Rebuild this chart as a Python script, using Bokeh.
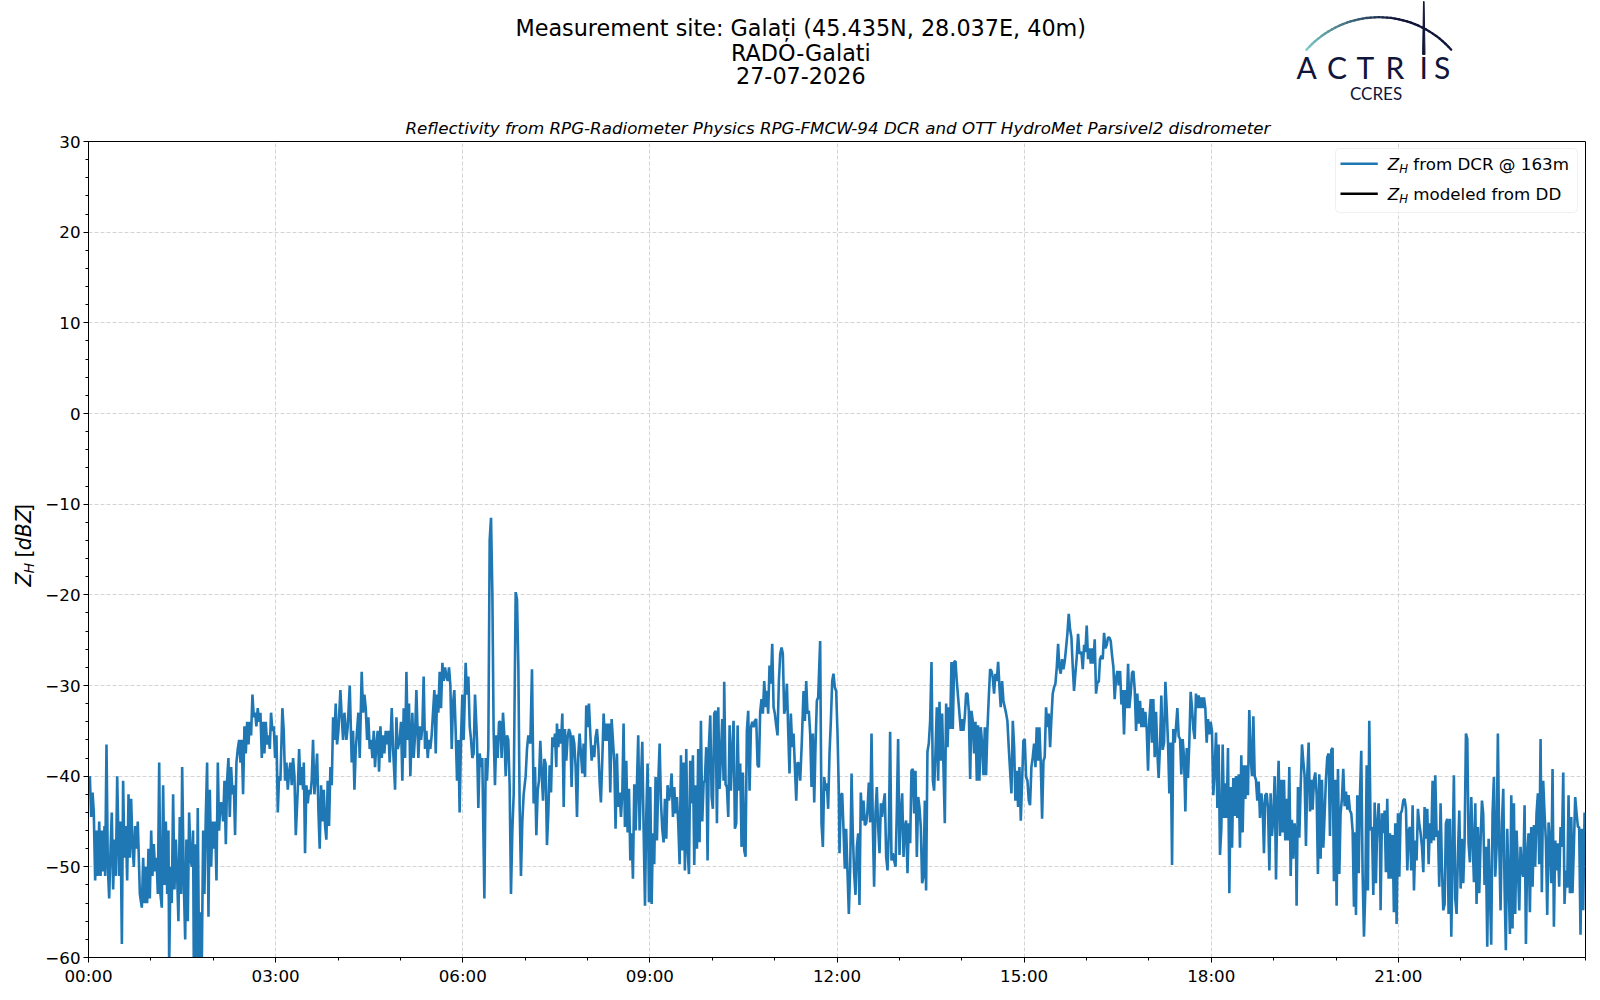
import numpy as np
import pandas as pd
from bokeh.plotting import figure
from bokeh.layouts import column, row
from bokeh.models import ColumnDataSource, Range1d, FixedTicker, Label, BoxAnnotation, Arrow, Title
from bokeh.core.properties import value
from bokeh.embed import file_html
from bokeh.resources import INLINE

# ---------------- chart content ----------------
day = "2026-07-27"
site_title = "Measurement site: Galați (45.435N, 28.037E, 40m)"
station_name = "RADO-Galati"
date_text = "27-07-2026"
subtitle = "Reflectivity from RPG-Radiometer Physics RPG-FMCW-94 DCR and OTT HydroMet Parsivel2 disdrometer"
legend_texts = ["from DCR @ 163m", "modeled from DD"]
legend_colors = ["#1f77b4", "black"]

x_tick_hours = [0, 3, 6, 9, 12, 15, 18, 21]
x_tick_labels = ["00:00", "03:00", "06:00", "09:00", "12:00", "15:00", "18:00", "21:00"]
y_ticks = [-60, -50, -40, -30, -20, -10, 0, 10, 20, 30]
y_tick_labels = ["\u221260", "\u221250", "\u221240", "\u221230", "\u221220", "\u221210", "0", "10", "20", "30"]

# Z_H from the cloud radar, minutes after midnight and dBZ
min_a = [
    1.3, 2.6, 3.9, 5.1, 6.4, 7.7, 9.0, 10.3, 11.6, 12.8,
    14.1, 15.4, 16.0, 17.3, 18.6, 19.9, 21.2, 22.4, 23.7, 25.0,
    26.3, 27.6, 29.5, 30.8, 32.1, 33.3, 34.6, 35.9, 37.2, 38.5,
    39.8, 41.0, 42.3, 43.6, 44.9, 46.2, 47.4, 49.4, 51.3, 52.6,
    53.9, 55.1, 56.4, 57.7, 59.0, 60.3, 61.5, 62.8, 64.1, 65.4,
    66.7, 68.0, 69.2, 70.5, 71.8, 73.1, 74.4, 75.7, 76.9, 77.6,
    78.9, 80.1, 81.4, 82.7, 84.0, 85.3, 86.5, 87.8, 89.1, 90.1,
    91.7, 93.0, 94.2, 95.5, 96.8, 98.1, 99.4, 100.6, 101.3, 102.6,
    103.9, 105.1, 106.4, 107.7, 109.0, 110.3, 111.5, 112.8, 114.1, 115.4,
    116.7, 118.0, 119.2, 120.5, 121.8, 123.1, 124.4, 125.6, 126.9, 128.2,
    129.5, 130.8, 132.1, 133.3, 134.6, 135.9, 137.2, 138.5, 139.8, 141.0,
    142.3, 143.6, 144.9, 146.2, 147.4, 148.7, 150.0, 151.3, 152.6, 153.9,
    155.1, 156.4, 157.7, 159.0, 160.3, 161.5, 162.8, 164.1]
zh_a = [
    -40, -44.5, -41.8, -44, -51.5, -46, -51, -45, -51, -46,
    -50.5, -45.5, -51, -36.5, -50, -53.5, -48, -44, -52.5, -47,
    -51, -40, -51, -45, -58.5, -40.5, -49, -45.5, -51.5, -42,
    -49, -42.5, -47.5, -50, -45.5, -48, -45, -53, -54.5, -49,
    -54, -50, -54, -48, -53.5, -46, -51, -47.5, -50.5, -49,
    -53, -38.5, -53, -54.5, -41, -52, -45, -53, -46, -61,
    -50, -54, -42, -52.5, -47, -51, -56, -44.5, -53, -39,
    -52, -58, -47, -56, -44, -49, -50, -46, -61, -47.5,
    -60.5, -43.5, -61, -55, -60.5, -46, -53, -44.5, -38.5, -55.5,
    -41.5, -50, -45, -48, -45, -51.5, -38.5, -46, -43, -43,
    -45, -40.5, -47.5, -40.5, -38, -44.5, -39, -42, -41, -46.5,
    -38.5, -37, -36, -38.5, -36, -42, -34.5, -37.5, -34, -36.5,
    -34, -35.5, -31, -33.5, -33, -34.5, -32.5, -34]

min_b = [
    165.4, 166.7, 168.0, 169.2, 170.5, 171.8, 173.1, 174.4, 175.6, 176.9,
    178.2, 179.5, 180.8, 182.1, 183.3, 184.6, 186.5, 187.8, 189.1, 190.4,
    191.7, 193.0, 194.2, 195.5, 196.8, 198.1, 199.4, 201.3, 202.6, 203.9,
    205.1, 206.4, 207.1, 208.3, 209.6, 210.9, 212.2, 213.5, 214.7, 216.0,
    217.3, 218.6, 219.9, 221.2, 222.4, 223.7, 225.0, 226.3, 227.6, 228.8,
    230.1, 231.4, 232.7, 234.0, 235.3, 236.5, 237.8, 239.1, 240.4, 242.3,
    243.6, 244.9, 246.2, 248.1, 249.4, 251.3, 253.2, 254.5, 255.8, 257.1,
    258.3, 259.6, 260.9, 262.8, 264.1, 265.4, 266.7, 268.0, 269.2, 270.5,
    271.8, 273.1, 274.4, 275.6, 276.9, 278.2, 279.5, 280.8, 282.1, 283.3,
    284.6, 285.9, 287.2, 288.5, 289.7, 291.7, 293.0, 294.9, 296.2, 297.4,
    299.4, 300.6, 301.9, 303.2, 304.5, 305.8, 307.1, 308.3, 309.6, 311.5,
    312.8, 314.1, 315.4, 317.3, 318.6, 319.9, 321.2, 322.4, 323.7, 325.0,
    326.3, 327.6, 328.8, 330.1, 331.4, 332.7, 334.0, 335.3, 336.5, 337.8,
    339.1, 340.4, 341.7, 343.0, 344.2, 345.5, 346.8, 348.1, 349.4, 350.6,
    351.9, 353.2, 354.5, 355.8, 357.0, 358.3, 359.6, 360.9, 362.8, 364.1,
    365.4, 366.7, 368.0, 369.2, 370.5, 371.8, 373.7, 375.0, 376.3, 377.6,
    378.8, 380.8, 382.1, 383.3, 384.6, 385.9, 387.2, 388.5, 389.7, 391.0,
    392.3, 393.6, 394.9, 396.2, 397.4, 398.7, 400.0, 401.3, 402.6, 403.8,
    405.1, 406.4, 407.7, 409.0, 410.9, 412.2, 413.5, 414.7, 416.0, 417.3,
    418.6, 420.5, 421.8, 423.1]
zh_b = [
    -33, -38, -34, -37.5, -34, -36.5, -35.5, -37, -33, -35,
    -34.5, -38, -35.5, -44, -40, -40.5, -32.5, -35, -40.5, -38.5,
    -41.5, -39.5, -38.5, -41, -38, -40, -46.5, -41.5, -37, -41,
    -39, -41.5, -38.5, -48.5, -41, -43, -41.5, -42, -40.5, -36,
    -42, -40, -37.5, -44, -48, -41, -45, -41.5, -45.5, -47,
    -40.5, -45.5, -39, -41, -33.5, -36, -32, -36.5, -35, -30.5,
    -33.5, -36, -33, -36, -34.5, -30, -38.5, -35, -41.5, -37,
    -35, -33, -38, -28.5, -33, -31, -32.5, -36, -33.5, -37,
    -36, -38, -35, -39, -36.5, -35, -39.5, -34.5, -38, -35.5,
    -37.5, -35, -36.5, -35, -38.5, -32.5, -37, -41.5, -33.5, -37,
    -36, -34, -40.5, -32.5, -38, -28.5, -36, -32, -40, -33,
    -38, -35.5, -30.5, -38, -34.5, -36, -34.5, -29, -37, -35,
    -38, -36, -37, -35.5, -33, -30.5, -37.5, -31, -33, -28.5,
    -32.5, -27.5, -29.5, -28, -29, -29.5, -28, -30, -37, -32,
    -30.5, -35, -40.5, -36, -44, -36, -31, -36, -27.5, -31,
    -29, -34.5, -36, -38, -37.5, -31, -36, -43.5, -37.5, -39,
    -38, -53.5, -38, -40.5, -37, -14, -11.5, -20, -35, -41,
    -35.5, -38, -34, -34, -38, -33, -35.5, -40, -35.5, -36,
    -41, -53, -46, -42, -19.7, -20.5, -28, -43, -51, -45,
    -42, -40, -37, -35.5]

min_c = [
    425.0, 426.6, 428.2, 429.5, 430.8, 432.1, 433.3, 434.6, 435.9, 437.2,
    438.5, 439.7, 441.0, 442.3, 443.6, 444.9, 446.2, 447.4, 448.7, 450.0,
    450.6, 451.9, 453.2, 454.5, 455.8, 457.1, 458.3, 459.6, 460.9, 462.2,
    463.5, 464.7, 466.0, 467.3, 468.6, 469.9, 471.2, 472.4, 473.7, 475.0,
    476.3, 477.6, 478.8, 480.1, 481.4, 482.7, 484.0, 485.3, 486.5, 487.8,
    489.1, 490.4, 491.7, 492.9, 494.2, 495.5, 496.8, 498.1, 499.4, 500.6,
    501.9, 503.2, 504.5, 505.8, 507.0, 508.3, 509.6, 510.9, 512.2, 513.5,
    514.7, 516.0, 517.3, 518.6, 519.9, 521.2, 522.4, 523.7, 525.0, 526.3,
    527.6, 528.8, 530.1, 531.4, 532.7, 534.0, 535.3, 536.5, 537.8, 539.1,
    540.4, 541.7, 542.9, 544.2, 545.5, 546.8, 548.1, 549.4, 550.6, 551.9,
    553.2, 554.5, 555.8, 557.0, 558.3, 559.6, 560.9, 562.2, 563.5, 564.7,
    566.0, 567.3, 568.6, 569.9, 571.1, 572.4, 573.7, 575.0, 576.3, 577.6,
    578.8, 580.1, 581.4, 582.7, 584.0, 585.3, 586.5, 587.8, 589.1, 590.4,
    591.7, 592.9, 594.2, 595.5, 596.8, 598.1, 599.4, 600.6, 601.9, 603.2,
    604.5, 605.8, 607.0, 608.3, 609.6, 610.9, 611.5, 612.8, 614.1, 615.4,
    616.7, 617.9, 619.2, 620.5, 621.8, 623.1, 624.4, 625.6, 626.9, 628.2,
    629.5, 630.8, 632.0, 633.3, 634.6, 635.9, 637.2, 638.5, 639.7, 641.0,
    642.3, 643.6, 644.9, 646.1, 647.4, 648.7, 650.0, 651.3, 652.6, 653.8,
    655.1, 656.4, 657.7, 659.0, 660.2, 661.5, 662.8, 664.1, 665.4, 666.7,
    667.9, 669.2, 670.5, 671.8, 673.1, 674.3, 675.6, 676.9, 678.2, 679.5,
    680.8, 682.0, 683.3]
zh_c = [
    -36.4, -28.2, -43.0, -39.0, -46.5, -41.6, -40.5, -36.1, -39.6, -42.7,
    -38.1, -38.6, -47.6, -44.1, -38.8, -41.8, -35.7, -36.8, -35.3, -39.0,
    -34.2, -36.8, -34.8, -36.4, -33.1, -43.4, -34.8, -38.3, -35.7, -34.8,
    -35.3, -41.2, -35.5, -36.4, -39.0, -44.5, -37.5, -35.3, -37.5, -39.7,
    -36.4, -40.1, -32.2, -34.6, -32.0, -35.3, -38.3, -36.6, -37.9, -35.7,
    -34.8, -36.8, -40.7, -42.9, -38.3, -33.1, -36.1, -34.2, -36.1, -34.2,
    -41.8, -33.7, -36.1, -38.6, -45.8, -37.5, -43.4, -41.8, -44.5, -41.8,
    -34.2, -45.6, -38.3, -46.2, -41.4, -49.3, -46.3, -51.3, -40.9, -46.0,
    -40.7, -35.5, -46.0, -40.5, -36.2, -46.0, -54.3, -44.5, -38.6, -53.9,
    -41.2, -54.1, -46.3, -49.7, -40.1, -47.1, -40.5, -36.4, -42.7, -45.8,
    -47.3, -42.5, -46.9, -41.0, -42.7, -41.8, -39.7, -44.5, -41.2, -44.1,
    -42.3, -45.2, -49.7, -37.7, -48.2, -38.5, -50.4, -37.0, -48.2, -50.8,
    -38.3, -43.0, -37.7, -49.8, -41.0, -48.0, -37.0, -47.3, -33.9, -45.0,
    -40.7, -40.5, -36.8, -49.3, -36.6, -33.3, -42.3, -43.6, -33.1, -32.8,
    -45.2, -32.4, -41.4, -37.9, -33.7, -40.5, -29.6, -40.9, -41.2, -44.5,
    -34.4, -41.6, -37.3, -33.9, -45.8, -45.2, -34.4, -41.6, -38.6, -47.8,
    -39.6, -48.2, -48.9, -35.0, -32.8, -41.6, -34.6, -34.0, -34.6, -33.9,
    -33.7, -38.8, -39.0, -32.9, -31.5, -33.1, -29.5, -32.4, -30.6, -33.1,
    -27.8, -29.8, -25.4, -32.4, -33.1, -34.4, -35.5, -29.5, -26.5, -25.8,
    -26.5, -33.1, -32.4, -29.8, -35.1, -39.7, -33.1, -36.8, -35.3, -39.0,
    -42.7, -38.5, -38.6]

min_d = [
    684.6, 686.2, 687.8, 689.1, 690.4, 691.6, 692.9, 694.2, 695.5, 696.8,
    698.1, 699.3, 700.6, 701.9, 703.8, 705.1, 706.4, 707.7, 709.0, 710.2,
    711.5, 712.8, 714.1, 715.4, 716.6, 717.9, 719.2, 720.5, 721.8, 722.4,
    723.7, 725.0, 726.3, 727.5, 728.8, 730.1, 731.4, 732.7, 734.0, 735.2,
    736.5, 737.8, 739.1, 740.4, 741.6, 742.9, 744.2, 745.5, 746.8, 748.1,
    749.3, 750.6, 751.9, 753.2, 754.5, 755.7, 757.0, 758.3, 759.6, 760.9,
    762.2, 763.4, 764.7, 766.0, 767.3, 768.6, 769.9, 771.1, 772.4, 773.7,
    775.0, 776.3, 777.5, 778.8, 780.1, 781.4, 782.7, 784.0, 785.2, 786.5,
    787.8, 789.1, 790.4, 791.6, 792.9, 794.2, 795.5, 796.8, 798.1, 799.3,
    800.6, 801.9, 803.2, 804.5, 805.7, 807.0, 808.3, 809.6, 810.9, 812.2,
    813.4, 814.7, 816.0, 817.3, 818.6, 819.9, 821.1, 822.4, 823.7, 825.0,
    826.3, 827.5, 828.8, 830.1, 831.4, 832.7, 834.0, 835.2, 836.5, 837.8,
    839.1, 840.4, 841.6, 842.9, 844.2, 845.5, 846.8, 848.1, 849.3, 850.6,
    851.9, 853.2, 854.5, 855.7, 857.0, 858.3, 859.6, 860.9, 862.2, 863.4,
    864.7, 866.0, 867.3, 868.6, 869.8, 871.1, 872.4, 873.7, 875.0, 876.3,
    877.5, 878.8, 880.1, 881.4, 882.7, 883.9, 885.2, 886.5, 887.8, 889.1,
    890.4, 891.6, 892.9, 894.2, 895.5, 896.8, 898.0, 899.3, 900.6, 901.9,
    903.2, 904.5, 905.7, 907.0, 908.3, 909.6, 910.9, 912.1, 913.4, 914.7,
    916.0, 917.3, 918.6, 919.8, 921.1, 922.4, 923.7, 925.0, 926.3, 927.5,
    928.8, 930.1, 931.4, 932.7, 933.9, 935.2, 936.5, 937.8, 939.1, 940.4,
    941.6, 942.9, 944.2, 945.5, 946.8, 948.0, 949.3, 950.6, 951.9, 953.2]
zh_d = [
    -40.5, -36.1, -30.6, -33.9, -29.5, -33.1, -32.8, -35.3, -41.2, -35.3,
    -42.9, -36.8, -31.7, -31.3, -25.1, -45.2, -47.8, -40.1, -41.6, -40.8,
    -43.6, -37.5, -33.9, -29.5, -28.7, -30.2, -30.6, -35.3, -41.9, -48.5,
    -42.1, -41.9, -46.0, -50.2, -45.8, -50.6, -55.2, -50.0, -39.7, -46.3,
    -50.7, -53.1, -47.8, -46.3, -54.2, -41.8, -44.9, -42.7, -45.4, -45.2,
    -43.8, -40.7, -45.1, -35.3, -45.6, -52.2, -44.1, -41.2, -45.6, -48.5,
    -43.0, -44.5, -43.0, -41.9, -48.9, -50.4, -46.0, -35.1, -49.3, -48.5,
    -49.3, -50.0, -44.1, -35.9, -48.7, -44.1, -41.9, -48.9, -45.6, -44.9,
    -50.7, -45.2, -47.4, -39.4, -39.2, -44.1, -39.4, -48.9, -42.3, -43.4,
    -45.6, -51.8, -51.1, -42.7, -52.6, -37.3, -36.4, -33.9, -27.4, -40.5,
    -41.6, -37.5, -32.4, -40.5, -31.8, -38.3, -33.1, -39.0, -45.2, -32.0,
    -36.8, -32.4, -34.8, -27.4, -34.8, -27.4, -27.3, -29.5, -31.3, -33.1,
    -35.0, -33.7, -35.0, -33.5, -30.9, -30.9, -32.8, -40.3, -32.8, -33.9,
    -37.5, -34.0, -40.5, -34.4, -40.5, -34.6, -36.4, -39.9, -34.6, -39.9,
    -34.8, -31.3, -28.2, -28.4, -29.1, -30.9, -28.7, -29.5, -27.4, -30.2,
    -32.4, -29.5, -31.7, -32.4, -33.1, -33.9, -36.8, -39.4, -41.9, -33.9,
    -36.8, -42.7, -39.4, -43.4, -39.0, -44.9, -40.8, -36.1, -35.9, -40.1,
    -40.5, -42.7, -43.2, -39.0, -37.9, -36.4, -39.0, -34.6, -38.3, -34.6,
    -38.6, -44.7, -38.3, -37.9, -32.4, -34.6, -33.1, -36.8, -33.5, -30.9,
    -30.2, -29.8, -28.0, -25.4, -28.0, -28.7, -27.1, -28.2, -27.3, -25.8,
    -24.3, -22.1, -23.8, -24.7, -28.0, -30.6, -28.7, -26.9, -24.3, -26.5]

min_e = [
    955.1, 956.4, 957.7, 958.9, 960.2, 961.5, 962.8, 964.1, 965.4, 966.6,
    967.9, 969.2, 970.5, 971.8, 973.0, 974.3, 975.6, 976.9, 978.2, 979.5,
    980.7, 982.0, 983.3, 984.6, 985.9, 987.1, 988.4, 989.7, 991.0, 992.3,
    993.6, 994.8, 996.1, 997.4, 998.7, 1000.0, 1001.2, 1002.5, 1003.8, 1005.1,
    1006.4, 1007.7, 1008.9, 1010.2, 1011.5, 1012.8, 1014.1, 1015.3, 1016.6, 1017.9,
    1019.2, 1020.5, 1021.8, 1023.0, 1024.3, 1025.6, 1026.9, 1028.2, 1029.4, 1030.7,
    1032.0, 1033.3, 1034.6, 1035.9, 1037.1, 1038.4, 1039.7, 1041.0, 1042.3, 1043.5,
    1044.8, 1046.1, 1047.4, 1048.7, 1050.0, 1051.2, 1052.5, 1053.8, 1055.1, 1056.4,
    1057.6, 1058.9, 1060.2, 1061.5, 1062.8, 1064.1, 1065.3, 1066.6, 1067.9, 1069.2,
    1070.5, 1071.8, 1073.0, 1074.3, 1075.6, 1076.9, 1078.2, 1079.4, 1080.7, 1082.0,
    1083.3, 1084.6, 1085.9, 1087.1, 1088.4, 1089.7, 1091.0, 1092.3, 1093.5, 1094.8,
    1096.1, 1097.4, 1098.7, 1100.0, 1101.2, 1102.5, 1103.8, 1105.1, 1106.4, 1107.6,
    1108.9, 1110.2, 1111.5, 1112.8, 1114.1, 1115.3, 1116.6, 1117.9, 1119.2, 1120.5,
    1121.8, 1123.0, 1124.3, 1125.6, 1126.9, 1128.2, 1129.4, 1130.7, 1132.0, 1133.3,
    1134.6, 1135.9, 1137.1, 1138.4, 1139.7, 1141.0, 1142.3, 1143.5, 1144.8, 1146.1,
    1147.4, 1148.7, 1150.0, 1151.2, 1152.5, 1153.8, 1155.1, 1156.4, 1157.6, 1158.9,
    1160.2, 1161.5, 1162.1, 1163.4, 1164.7, 1166.0, 1167.3, 1168.5, 1169.8, 1171.1,
    1172.4, 1173.7, 1175.0, 1176.2, 1177.5, 1178.8, 1180.1, 1181.4, 1182.6, 1183.9,
    1185.2, 1186.5, 1187.8, 1189.1, 1190.3, 1191.6, 1192.9, 1194.2, 1195.5, 1196.7,
    1198.0, 1199.3, 1200.6, 1201.9, 1203.2, 1204.4, 1205.7, 1207.0, 1208.3, 1209.6,
    1210.9, 1212.1]
zh_e = [
    -26.3, -28.2, -25.5, -26.3, -23.4, -27.1, -25.9, -27.6, -25.9, -27.6,
    -24.9, -30.9, -29.6, -29.6, -27.1, -26.7, -27.1, -24.2, -25.9, -25.5,
    -24.7, -24.7, -25.1, -26.7, -28.0, -31.5, -29.2, -28.4, -30.0, -28.4,
    -32.1, -30.5, -35.4, -30.5, -32.5, -27.6, -32.5, -30.9, -28.6, -28.4,
    -30.5, -35.0, -30.9, -34.2, -31.7, -34.6, -32.5, -34.6, -32.9, -34.8,
    -39.4, -33.7, -31.5, -36.3, -31.5, -37.9, -32.9, -37.5, -40.2, -36.7,
    -31.1, -37.1, -36.3, -29.6, -32.5, -36.3, -41.9, -36.3, -49.8, -34.8,
    -36.3, -34.6, -32.5, -35.6, -35.9, -39.8, -35.9, -37.9, -43.9, -36.9,
    -40.2, -36.3, -30.7, -32.5, -34.8, -35.9, -30.9, -32.5, -31.1, -32.5,
    -31.3, -32.5, -31.3, -32.5, -36.3, -33.7, -35.4, -34.0, -35.0, -42.1,
    -39.2, -35.2, -43.5, -36.5, -48.7, -45.8, -36.5, -44.6, -40.8, -44.6,
    -36.9, -52.9, -41.2, -47.9, -40.2, -44.4, -40.0, -44.6, -39.8, -47.9,
    -37.7, -46.2, -38.8, -42.5, -38.8, -42.1, -32.7, -37.9, -40.0, -33.4,
    -40.0, -40.4, -42.7, -40.6, -44.6, -41.9, -43.1, -48.5, -42.1, -41.9,
    -43.5, -50.4, -41.9, -46.6, -44.6, -40.0, -51.4, -43.3, -38.3, -46.6,
    -40.4, -46.2, -40.4, -47.1, -42.5, -47.1, -39.0, -51.0, -44.8, -49.1,
    -45.2, -47.3, -54.3, -41.2, -46.8, -41.2, -36.5, -38.3, -40.0, -47.7,
    -39.8, -36.3, -43.9, -40.4, -43.7, -40.4, -39.6, -42.1, -50.8, -39.8,
    -49.1, -40.4, -47.9, -44.1, -40.4, -37.9, -37.5, -46.6, -37.1, -36.9,
    -51.6, -40.4, -54.3, -39.2, -50.8, -44.1, -42.5, -39.2, -43.3, -41.7,
    -43.7, -42.1]

min_f = [
    1213.4, 1214.7, 1216.0, 1217.3, 1218.6, 1219.2, 1220.5, 1221.8, 1223.1, 1224.3,
    1225.6, 1226.9, 1228.2, 1229.5, 1230.7, 1232.0, 1233.3, 1234.6, 1235.9, 1237.2,
    1238.4, 1239.7, 1241.0, 1242.3, 1242.9, 1244.2, 1245.5, 1246.8, 1248.0, 1249.3,
    1250.6, 1251.9, 1253.2, 1254.5, 1255.7, 1257.0, 1258.3, 1259.6, 1260.9, 1262.2,
    1263.4, 1264.7, 1266.0, 1267.3, 1268.6, 1269.9, 1271.1, 1272.4, 1273.7, 1275.0,
    1276.3, 1277.5, 1278.8, 1280.1, 1281.4, 1282.7, 1284.0, 1285.2, 1286.5, 1287.8,
    1289.1, 1290.4, 1291.6, 1292.9, 1294.2, 1295.5, 1296.8, 1298.1, 1299.3, 1300.6,
    1301.9, 1303.2, 1304.5, 1305.7, 1307.0, 1308.3, 1309.6, 1310.9, 1312.2, 1313.4,
    1314.7, 1316.0, 1317.3, 1318.6, 1319.9, 1321.1, 1322.4, 1323.7, 1325.0, 1326.3,
    1327.5, 1328.8, 1330.1, 1331.4, 1332.7, 1334.0, 1335.2, 1336.5, 1337.8, 1339.1,
    1340.4, 1341.6, 1342.9, 1344.2, 1345.5, 1346.8, 1348.1, 1349.3, 1350.6, 1351.9,
    1353.2, 1354.5, 1355.7, 1357.0, 1358.3, 1359.6, 1360.9, 1362.2, 1363.4, 1364.7,
    1366.0, 1367.3, 1368.6, 1369.8, 1371.1, 1372.4, 1373.7, 1375.0, 1376.3, 1377.5,
    1378.8, 1380.1, 1381.4, 1382.7, 1383.9, 1385.2, 1386.5, 1387.8, 1389.1, 1390.4,
    1391.6, 1392.9, 1394.2, 1395.5, 1396.8, 1398.0, 1399.3, 1400.6, 1401.9, 1403.2,
    1404.5, 1405.7, 1407.0, 1408.3, 1409.6, 1410.9, 1412.1, 1413.4, 1414.7, 1416.0,
    1417.3, 1418.6, 1419.8, 1421.1, 1422.4, 1423.7, 1425.0, 1426.3, 1427.5, 1428.8,
    1430.1, 1431.4, 1432.7, 1433.9, 1435.2, 1436.5, 1437.8, 1439.1]
zh_f = [
    -43.8, -44.1, -46.0, -54.4, -46.2, -55.3, -42.1, -50.7, -41.9, -37.2,
    -50.7, -57.7, -52.6, -38.8, -52.6, -33.9, -46.0, -45.6, -53.1, -42.9,
    -51.8, -45.2, -43.0, -47.4, -54.8, -44.1, -46.3, -43.8, -50.6, -42.5,
    -51.3, -46.3, -51.3, -46.5, -55.0, -45.2, -56.3, -44.1, -51.1, -44.1,
    -43.8, -42.7, -42.5, -43.6, -50.4, -46.0, -45.6, -50.4, -43.2, -52.6,
    -47.1, -49.3, -43.6, -45.2, -46.3, -47.8, -50.6, -43.4, -46.9, -43.6,
    -49.7, -45.2, -47.4, -40.5, -47.1, -39.9, -46.7, -46.0, -52.2, -43.0,
    -50.0, -54.8, -54.1, -45.2, -44.7, -55.2, -44.7, -57.7, -48.5, -39.9,
    -53.5, -55.2, -48.5, -43.8, -52.4, -46.9, -51.8, -47.1, -35.3, -35.9,
    -47.4, -49.5, -42.3, -47.1, -51.7, -43.0, -54.1, -45.6, -52.9, -47.1,
    -42.7, -44.1, -52.0, -47.8, -58.8, -46.9, -52.9, -58.6, -44.1, -40.1,
    -51.1, -47.8, -35.3, -47.3, -54.8, -45.2, -41.4, -52.6, -59.2, -45.8,
    -51.5, -57.4, -42.1, -56.8, -43.0, -55.2, -46.0, -50.2, -54.8, -47.8,
    -50.4, -51.1, -43.2, -58.5, -48.7, -46.3, -55.0, -45.6, -52.2, -45.4,
    -50.0, -44.1, -41.9, -49.7, -35.9, -52.8, -40.5, -44.1, -47.1, -55.3,
    -45.1, -47.4, -51.8, -39.2, -56.6, -47.1, -50.4, -47.4, -52.2, -45.6,
    -47.8, -39.6, -54.1, -50.4, -52.3, -42.1, -52.9, -44.5, -52.9, -47.8,
    -42.3, -44.1, -45.6, -45.6, -57.5, -45.8, -54.8, -44.0]

NAVY = "#10153a"
# text drawn with an alphabetic baseline lands about 0.4 em lower than asked here,
# so every baseline below is lifted by this fraction of its font size
DROP = 0.4


def blank_panel(width, height, x_range, y_range):
    # a figure without axes whose data units are page pixels
    f = figure(width=width, height=height, x_range=x_range, y_range=y_range,
               toolbar_location=None, output_backend="svg", x_axis_location=None,
               y_axis_location=None, min_border=0, title=None)
    f.grid.visible = False
    f.outline_line_color = None
    return f


def build_header():
    h = blank_panel(1592, 112, Range1d(0, 1592), Range1d(112, 0))

    size = 22.3
    h.text(x=[515, 730.5, 735.5], y=[36.7 - DROP * size, 61 - DROP * size, 83.5 - DROP * size],
           text=[site_title, station_name, date_text],
           text_font=value("DejaVu Sans"), text_font_size=f"{size}px", text_align="left",
           text_baseline="alphabetic", text_color="black")

    # ACTRIS / CCRES logo
    theta = np.linspace(np.radians(-138.5), np.radians(-41.6), 41)
    ax = 1378.4 + 96.7 * np.cos(theta)
    ay = 113.4 + 96.7 * np.sin(theta)
    teal = np.array([122, 200, 198])
    dark = np.array([16, 21, 58])
    cols = []
    for i in range(40):
        f = min(1.0, i / 24.0)
        c = (teal * (1 - f) + dark * f).astype(int)
        cols.append("#%02x%02x%02x" % tuple(c))
    h.multi_line(xs=[[ax[i], ax[i + 1]] for i in range(40)],
                 ys=[[ay[i], ay[i + 1]] for i in range(40)],
                 line_color=cols, line_width=2.3, line_cap="round")
    h.patch(x=[1423.0, 1423.6, 1424.5, 1422.1], y=[1, 1, 54, 54], color=NAVY)

    h.text(x=[1296, 1326.5, 1356, 1385, 1419, 1433.5], y=[78.8 - DROP * 30] * 6,
           text=list("ACTRIS"), text_font=value("Lato"), text_font_size="30px",
           text_align="left", text_baseline="alphabetic", text_color=NAVY)
    h.text(x=[1349.5], y=[99.5 - DROP * 17], text=["CCRES"], text_font=value("Lato"),
           text_font_size="17px", text_align="left", text_baseline="alphabetic",
           text_color=NAVY)
    return h


def build_ylabel():
    # Z_H [dBZ] written bottom to top; y here is 992 minus the page row
    lab = blank_panel(40, 880, Range1d(0, 40), Range1d(0, 880))
    pos = 992 - 592.0
    pieces = [("Z", 20.5, "italic", 31.5, 0.685), ("H", 14.3, "italic", 34.0, 0.752),
              ("[", 20.5, "normal", 31.5, 0.390), ("dBZ", 20.5, "italic", 31.5, 2.006),
              ("]", 20.5, "normal", 31.5, 0.390)]
    for txt, size, style, base_x, adv in pieces:
        if txt == "[":
            pos += 0.318 * size
        lab.text(x=[base_x - DROP * size], y=[pos], text=[txt], angle=np.pi / 2,
                 text_font=value("DejaVu Sans"), text_font_size=f"{size}px",
                 text_font_style=style, text_align="left", text_baseline="alphabetic",
                 text_color="black")
        pos += adv * size
    return lab


def build_main():
    minutes = min_a + min_b + min_c + min_d + min_e + min_f
    zh_dcr = zh_a + zh_b + zh_c + zh_d + zh_e + zh_f
    assert len(minutes) == len(zh_dcr)

    day0 = pd.Timestamp(day)
    times = (day0 + pd.to_timedelta(minutes, unit="m")).to_numpy()
    source = ColumnDataSource(data=dict(time=times, zh=zh_dcr))

    def to_ms(hours):
        return int((day0 + pd.Timedelta(hours=hours)).value // 10**6)

    p = figure(width=1552, height=880, x_axis_type="datetime",
               x_range=Range1d(to_ms(0), to_ms(24)), y_range=Range1d(-60, 30),
               toolbar_location=None, output_backend="svg", title=None,
               min_border_left=48, min_border_right=7, min_border_top=28, min_border_bottom=35)

    p.add_layout(Title(text=subtitle, align="left", offset=317, standoff=7,
                       text_font="DejaVu Sans", text_font_style="italic",
                       text_font_size="16.7px", text_color="black"), "above")

    p.line(x="time", y="zh", source=source, line_color="#1f77b4", line_width=2.6)

    major_x = [to_ms(hh) for hh in x_tick_hours]
    minor_x = [to_ms(hh) for hh in range(0, 25)]
    xa = p.xaxis[0]
    xa.ticker = FixedTicker(ticks=major_x, minor_ticks=minor_x)
    xa.major_label_overrides = dict(zip(major_x, x_tick_labels))
    ya = p.yaxis[0]
    ya.ticker = FixedTicker(ticks=y_ticks, minor_ticks=list(range(-60, 31, 2)))
    ya.major_label_overrides = dict(zip(y_ticks, y_tick_labels))

    for ax_ in (xa, ya):
        ax_.axis_line_color = "black"
        ax_.major_tick_line_color = "black"
        ax_.minor_tick_line_color = "black"
        ax_.major_tick_in = 0
        ax_.major_tick_out = 5
        ax_.minor_tick_in = 0
        ax_.minor_tick_out = 3
        ax_.major_label_text_font = "DejaVu Sans"
        ax_.major_label_text_font_size = "16.7px"
        ax_.major_label_text_color = "black"
    xa.major_label_standoff = 3
    ya.major_label_standoff = 3

    p.xgrid.ticker = FixedTicker(ticks=major_x)
    p.ygrid.ticker = FixedTicker(ticks=y_ticks)
    p.grid.grid_line_color = "#d4d4d4"
    p.grid.grid_line_dash = "4 2"
    p.grid.grid_line_width = 1
    p.outline_line_color = "black"
    p.outline_line_alpha = 1
    p.outline_line_width = 1

    # legend box, upper right (frame pixels, measured from the frame's bottom-left)
    p.add_layout(BoxAnnotation(left=1247, right=1489, bottom=745, top=809,
                               left_units="screen", right_units="screen",
                               bottom_units="screen", top_units="screen",
                               fill_color="white", fill_alpha=0.8, line_color="#cccccc",
                               line_width=1, border_radius=4))
    for rw, (txt, col) in enumerate(zip(legend_texts, legend_colors)):
        ly = 793.7 - 30 * rw
        base = 787 - 30 * rw
        p.add_layout(Arrow(end=None, x_start=1252, y_start=ly, x_end=1289.3, y_end=ly,
                           start_units="screen", end_units="screen",
                           line_color=col, line_width=2.5))
        p.add_layout(Label(x=1299.3, y=base + DROP * 16.7, x_units="screen", y_units="screen",
                           text="Z", text_font="DejaVu Sans", text_font_style="italic",
                           text_font_size="16.7px", text_baseline="alphabetic", text_color="black"))
        p.add_layout(Label(x=1310.7, y=base - 3.3 + DROP * 11.7, x_units="screen", y_units="screen",
                           text="H", text_font="DejaVu Sans", text_font_style="italic",
                           text_font_size="11.7px", text_baseline="alphabetic", text_color="black"))
        p.add_layout(Label(x=1324.8, y=base + DROP * 16.7, x_units="screen", y_units="screen",
                           text=txt, text_font="DejaVu Sans", text_font_size="16.7px",
                           text_baseline="alphabetic", text_color="black"))
    return p


def main():
    layout = column(build_header(), row(build_ylabel(), build_main()))
    open("out.html", "w").write(file_html(layout, INLINE))


if __name__ == "__main__":
    main()
